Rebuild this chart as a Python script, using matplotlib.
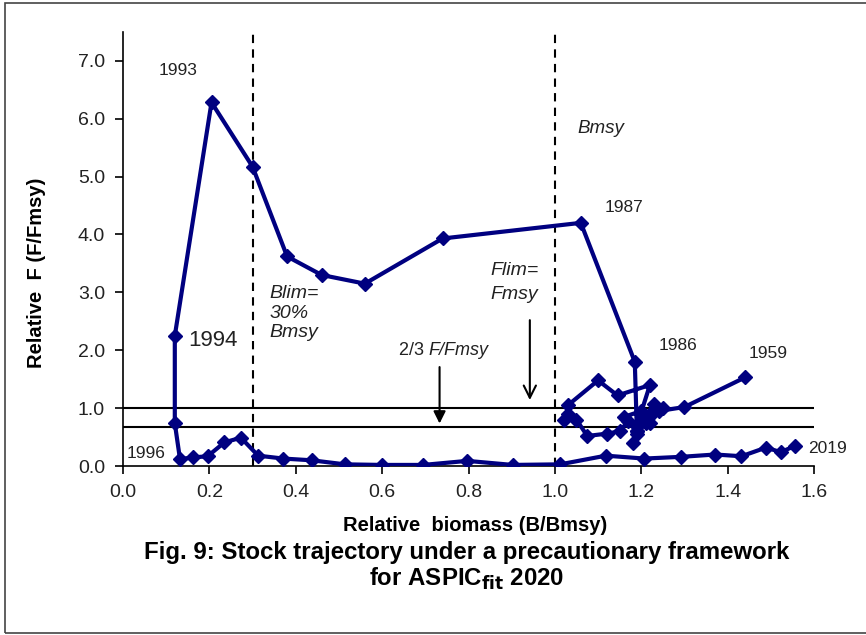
import matplotlib
matplotlib.use("Agg")
import matplotlib.pyplot as plt
from matplotlib.patches import Rectangle

plt.rcParams['font.family'] = ['Liberation Sans', 'DejaVu Sans']

# Relative biomass (B/Bmsy) and relative F (F/Fmsy), trajectory from 1959 onward
B = [1.44, 1.30, 1.24, 1.22, 1.25, 1.23, 1.21, 1.19, 1.16, 1.20,
     1.18, 1.19, 1.17, 1.15, 1.12, 1.075, 1.05, 1.02, 1.03, 1.03,
     1.10, 1.145, 1.22, 1.19, 1.22, 1.21, 1.19, 1.185,
     1.06, 0.74, 0.56, 0.46, 0.38, 0.30, 0.205, 0.12, 0.12,
     0.132, 0.163, 0.196, 0.235, 0.273, 0.313, 0.371, 0.437, 0.514,
     0.599, 0.695, 0.797, 0.902, 1.012, 1.118, 1.207, 1.293, 1.371,
     1.432, 1.489, 1.523, 1.556]
F = [1.53, 1.02, 0.95, 0.75, 1.00, 1.08, 0.85, 0.60, 0.85, 0.95,
     0.40, 0.60, 0.78, 0.60, 0.56, 0.52, 0.80, 0.80, 0.90, 1.05,
     1.48, 1.22, 1.40, 0.70, 0.90, 0.75, 0.55, 1.80,
     4.20, 3.93, 3.15, 3.30, 3.62, 5.17, 6.28, 2.25, 0.74,
     0.12, 0.15, 0.17, 0.41, 0.49, 0.18, 0.13, 0.10, 0.03,
     0.02, 0.02, 0.09, 0.02, 0.03, 0.18, 0.13, 0.16, 0.20,
     0.17, 0.32, 0.24, 0.35]

xticks = [0.0, 0.2, 0.4, 0.6, 0.8, 1.0, 1.2, 1.4, 1.6]
yticks = [0, 1, 2, 3, 4, 5, 6, 7]
blim, bmsy = 0.3, 1.0
flim, f23 = 1.0, 2.0 / 3.0

year_labels = [("1993", 0.127, 6.83, 12.5, 'center'),
               ("1994", 0.150, 2.17, 16, 'left'),
               ("1996", 0.009, 0.22, 12.5, 'left'),
               ("1987", 1.116, 4.47, 12.5, 'left'),
               ("1986", 1.241, 2.09, 12.5, 'left'),
               ("1959", 1.449, 1.95, 12.5, 'left'),
               ("2019", 1.586, 0.30, 12.5, 'left')]

fig = plt.figure(figsize=(8.66, 6.35), dpi=100)
ax = fig.add_axes([0.142, 0.266, 0.798, 0.684])

ax.axhline(flim, color='black', lw=1.5, zorder=1)
ax.axhline(f23, color='black', lw=1.5, zorder=1)
ax.axvline(blim, color='black', lw=1.5, ls=(0, (4, 3)), zorder=1)
ax.axvline(bmsy, color='black', lw=1.5, ls=(0, (4, 3)), zorder=1)

ax.plot(B, F, color='#000080', lw=3.0, marker='D', ms=7, mfc='#000080',
        mec='#000080', zorder=3)

for txt, x, y, fs, ha in year_labels:
    ax.text(x, y, txt, fontsize=fs, ha=ha, va='center', color='#222222')

ax.text(1.053, 5.83, "Bmsy", fontsize=13.5, style='italic', ha='left', va='center', color='#222222')
ax.text(0.340, 2.64, "Blim=\n30%\nBmsy", fontsize=14, style='italic', ha='left', va='center',
        linespacing=1.2, color='#222222')
ax.text(0.851, 3.17, "Flim=\nFmsy", fontsize=14, style='italic', ha='left', va='center',
        linespacing=1.5, color='#222222')
ax.text(0.708, 2.0, "2/3 ", fontsize=13, ha='right', va='center', color='#222222')
ax.text(0.708, 2.0, "F/Fmsy", fontsize=13, style='italic', ha='left', va='center', color='#222222')

ax.annotate("", xy=(0.733, 0.735), xytext=(0.733, 1.71),
            arrowprops=dict(arrowstyle='-|>', color='black', lw=1.5,
                            mutation_scale=18, shrinkA=0, shrinkB=0))
ax.annotate("", xy=(0.942, 1.14), xytext=(0.942, 2.52),
            arrowprops=dict(arrowstyle='->', color='black', lw=1.5,
                            mutation_scale=22, shrinkA=0, shrinkB=0))

ax.set_xlim(0, 1.6)
ax.set_ylim(0, 7.5)
ax.set_xticks(xticks)
ax.set_xticklabels([f"{v:.1f}" for v in xticks])
ax.set_yticks(yticks)
ax.set_yticklabels([f"{v:.1f}" for v in yticks])
ax.tick_params(direction='out', length=6, width=1.2, labelsize=14, pad=7, colors='black')
for lab in ax.get_xticklabels() + ax.get_yticklabels():
    lab.set_color('#222222')
for s in ['top', 'right']:
    ax.spines[s].set_visible(False)
for s in ['left', 'bottom']:
    ax.spines[s].set_linewidth(1.2)

ax.set_xlabel("Relative  biomass (B/Bmsy)", fontsize=14.5, fontweight='bold', labelpad=8)
ax.xaxis.set_label_coords(0.51, -0.115)
ax.set_ylabel("Relative  F (F/Fmsy)", fontsize=14.5, fontweight='bold')
ax.yaxis.set_label_coords(-0.112, 0.445)

fig.text(0.539, 1 - 552 / 635, "Fig. 9: Stock trajectory under a precautionary framework",
         fontsize=17.3, fontweight='bold', ha='center', va='center')
fig.text(0.539, 1 - 579 / 635, r"for ASPIC$_{\mathbf{fit}}$ 2020",
         fontsize=17.3, fontweight='bold', ha='center', va='center')

fig.add_artist(Rectangle((5 / 866, 2 / 635), 1.0, 1 - 5 / 635, transform=fig.transFigure,
                         fill=False, edgecolor='#444444', lw=1.2))

fig.savefig("out.png", dpi=100)
